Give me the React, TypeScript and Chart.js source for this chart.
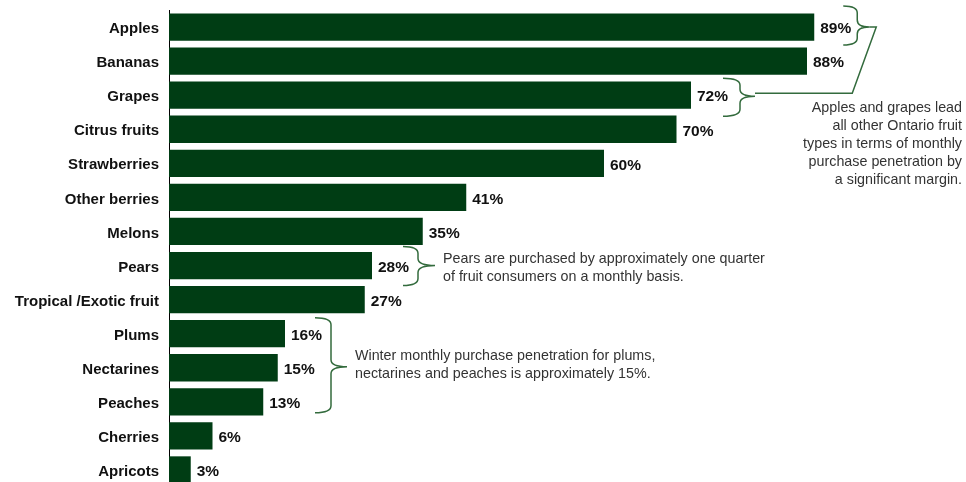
import { useEffect, useRef } from 'react';
import { Chart, registerables } from 'chart.js';

Chart.register(...registerables);

const categories = [
  'Apples',
  'Bananas',
  'Grapes',
  'Citrus fruits',
  'Strawberries',
  'Other berries',
  'Melons',
  'Pears',
  'Tropical /Exotic fruit',
  'Plums',
  'Nectarines',
  'Peaches',
  'Cherries',
  'Apricots',
];
const penetration = [89, 88, 72, 70, 60, 41, 35, 28, 27, 16, 15, 13, 6, 3];

const noteLead = [
  'Apples and grapes lead',
  'all other Ontario fruit',
  'types in terms of monthly',
  'purchase penetration by',
  'a significant margin.',
];
const notePears = [
  'Pears are purchased by approximately one quarter',
  'of fruit consumers on a monthly basis.',
];
const noteStone = [
  'Winter monthly purchase penetration for plums,',
  'nectarines and peaches is approximately 15%.',
];

const BAR = '#003d14';
const BRACE = '#336b3d';
const FONT = '"Liberation Sans", Arial, sans-serif';

function brace(ctx: CanvasRenderingContext2D, xLeft: number, xVert: number, xTip: number, yTop: number, yMid: number, yBot: number) {
  const r = 7;
  ctx.beginPath();
  ctx.moveTo(xLeft, yTop);
  ctx.quadraticCurveTo(xVert, yTop, xVert, yTop + r);
  ctx.lineTo(xVert, yMid - r);
  ctx.quadraticCurveTo(xVert, yMid, xTip, yMid);
  ctx.quadraticCurveTo(xVert, yMid, xVert, yMid + r);
  ctx.lineTo(xVert, yBot - r);
  ctx.quadraticCurveTo(xVert, yBot, xLeft, yBot);
  ctx.stroke();
}

const valueLabels = {
  id: 'valueLabels',
  afterDatasetsDraw(chart: any) {
    const ctx = chart.ctx as CanvasRenderingContext2D;
    const meta = chart.getDatasetMeta(0);
    ctx.save();
    ctx.font = `bold 15.5px ${FONT}`;
    ctx.fillStyle = '#111';
    ctx.textAlign = 'left';
    ctx.textBaseline = 'middle';
    meta.data.forEach((bar: any, i: number) => {
      ctx.fillText(`${penetration[i]}%`, bar.x + 6, bar.y + 2);
    });
    ctx.restore();
  },
};

const annotations = {
  id: 'annotations',
  afterDraw(chart: any) {
    const ctx = chart.ctx as CanvasRenderingContext2D;
    const x = chart.scales.x;
    const y = chart.scales.y;
    const cy = (i: number) => y.getPixelForValue(i);
    const ex = (i: number) => x.getPixelForValue(penetration[i]);
    ctx.save();
    ctx.strokeStyle = BRACE;
    ctx.lineWidth = 1.5;

    // Apples brace
    const a0 = ex(0) + 29;
    const aMid = cy(0);
    brace(ctx, a0, a0 + 14, a0 + 26, aMid - 21, aMid, aMid + 18);
    // Grapes brace
    const g0 = ex(2) + 32;
    const gMid = cy(2) + 1;
    brace(ctx, g0, g0 + 17, g0 + 32, gMid - 18, gMid, gMid + 20);
    // connector
    ctx.beginPath();
    ctx.moveTo(a0 + 26, aMid);
    ctx.lineTo(a0 + 33, aMid);
    ctx.lineTo(a0 + 9, gMid - 3);
    ctx.lineTo(g0 + 32, gMid - 3);
    ctx.stroke();

    // Pears brace
    const p0 = ex(7) + 31;
    const pMid = cy(7);
    brace(ctx, p0, p0 + 15, p0 + 32, pMid - 19, pMid, pMid + 20);

    // Plums/Nectarines/Peaches brace
    const s0 = ex(9) + 30;
    const sMid = cy(10) - 1;
    brace(ctx, s0, s0 + 16, s0 + 32, cy(9) - 16, sMid, cy(11) + 11);

    ctx.font = `14.3px ${FONT}`;
    ctx.fillStyle = '#333';
    ctx.textBaseline = 'middle';

    ctx.textAlign = 'right';
    noteLead.forEach((t, i) => ctx.fillText(t, 962, 108 + i * 18));

    ctx.textAlign = 'left';
    notePears.forEach((t, i) => ctx.fillText(t, p0 + 40, pMid - 6 + i * 18));
    noteStone.forEach((t, i) => ctx.fillText(t, s0 + 40, sMid - 11 + i * 18));
    ctx.restore();
  },
};

export default function App() {
  const ref = useRef<HTMLCanvasElement | null>(null);

  useEffect(() => {
    if (!ref.current) return;
    const chart = new Chart(ref.current, {
      type: 'bar',
      data: {
        labels: categories,
        datasets: [
          {
            data: penetration,
            backgroundColor: BAR,
            borderWidth: 0,
            categoryPercentage: 1,
            barPercentage: 0.8,
          },
        ],
      },
      options: {
        indexAxis: 'y',
        responsive: false,
        animation: false,
        layout: { padding: { left: 0, right: 72, top: 10, bottom: 0 } },
        plugins: {
          legend: { display: false },
          tooltip: { enabled: false },
        },
        scales: {
          x: {
            display: false,
            min: 0,
            max: 100,
          },
          y: {
            grid: { display: false, drawTicks: false },
            border: { display: true, color: '#000', width: 1 },
            ticks: {
              color: '#111',
              padding: 10,
              labelOffset: 2,
              font: { family: FONT, size: 15, weight: 'bold' },
              autoSkip: false,
            },
            afterFit(scale: any) {
              scale.width = 169;
              scale.paddingTop = 0;
              scale.paddingBottom = 0;
            },
          },
        },
      },
      plugins: [valueLabels, annotations],
    });
    return () => chart.destroy();
  }, []);

  return (
    <div style={{ position: 'fixed', left: 0, top: 0, width: 966, height: 487 }}>
      <canvas ref={ref} width={966} height={487} style={{ display: 'block' }} />
    </div>
  );
}
